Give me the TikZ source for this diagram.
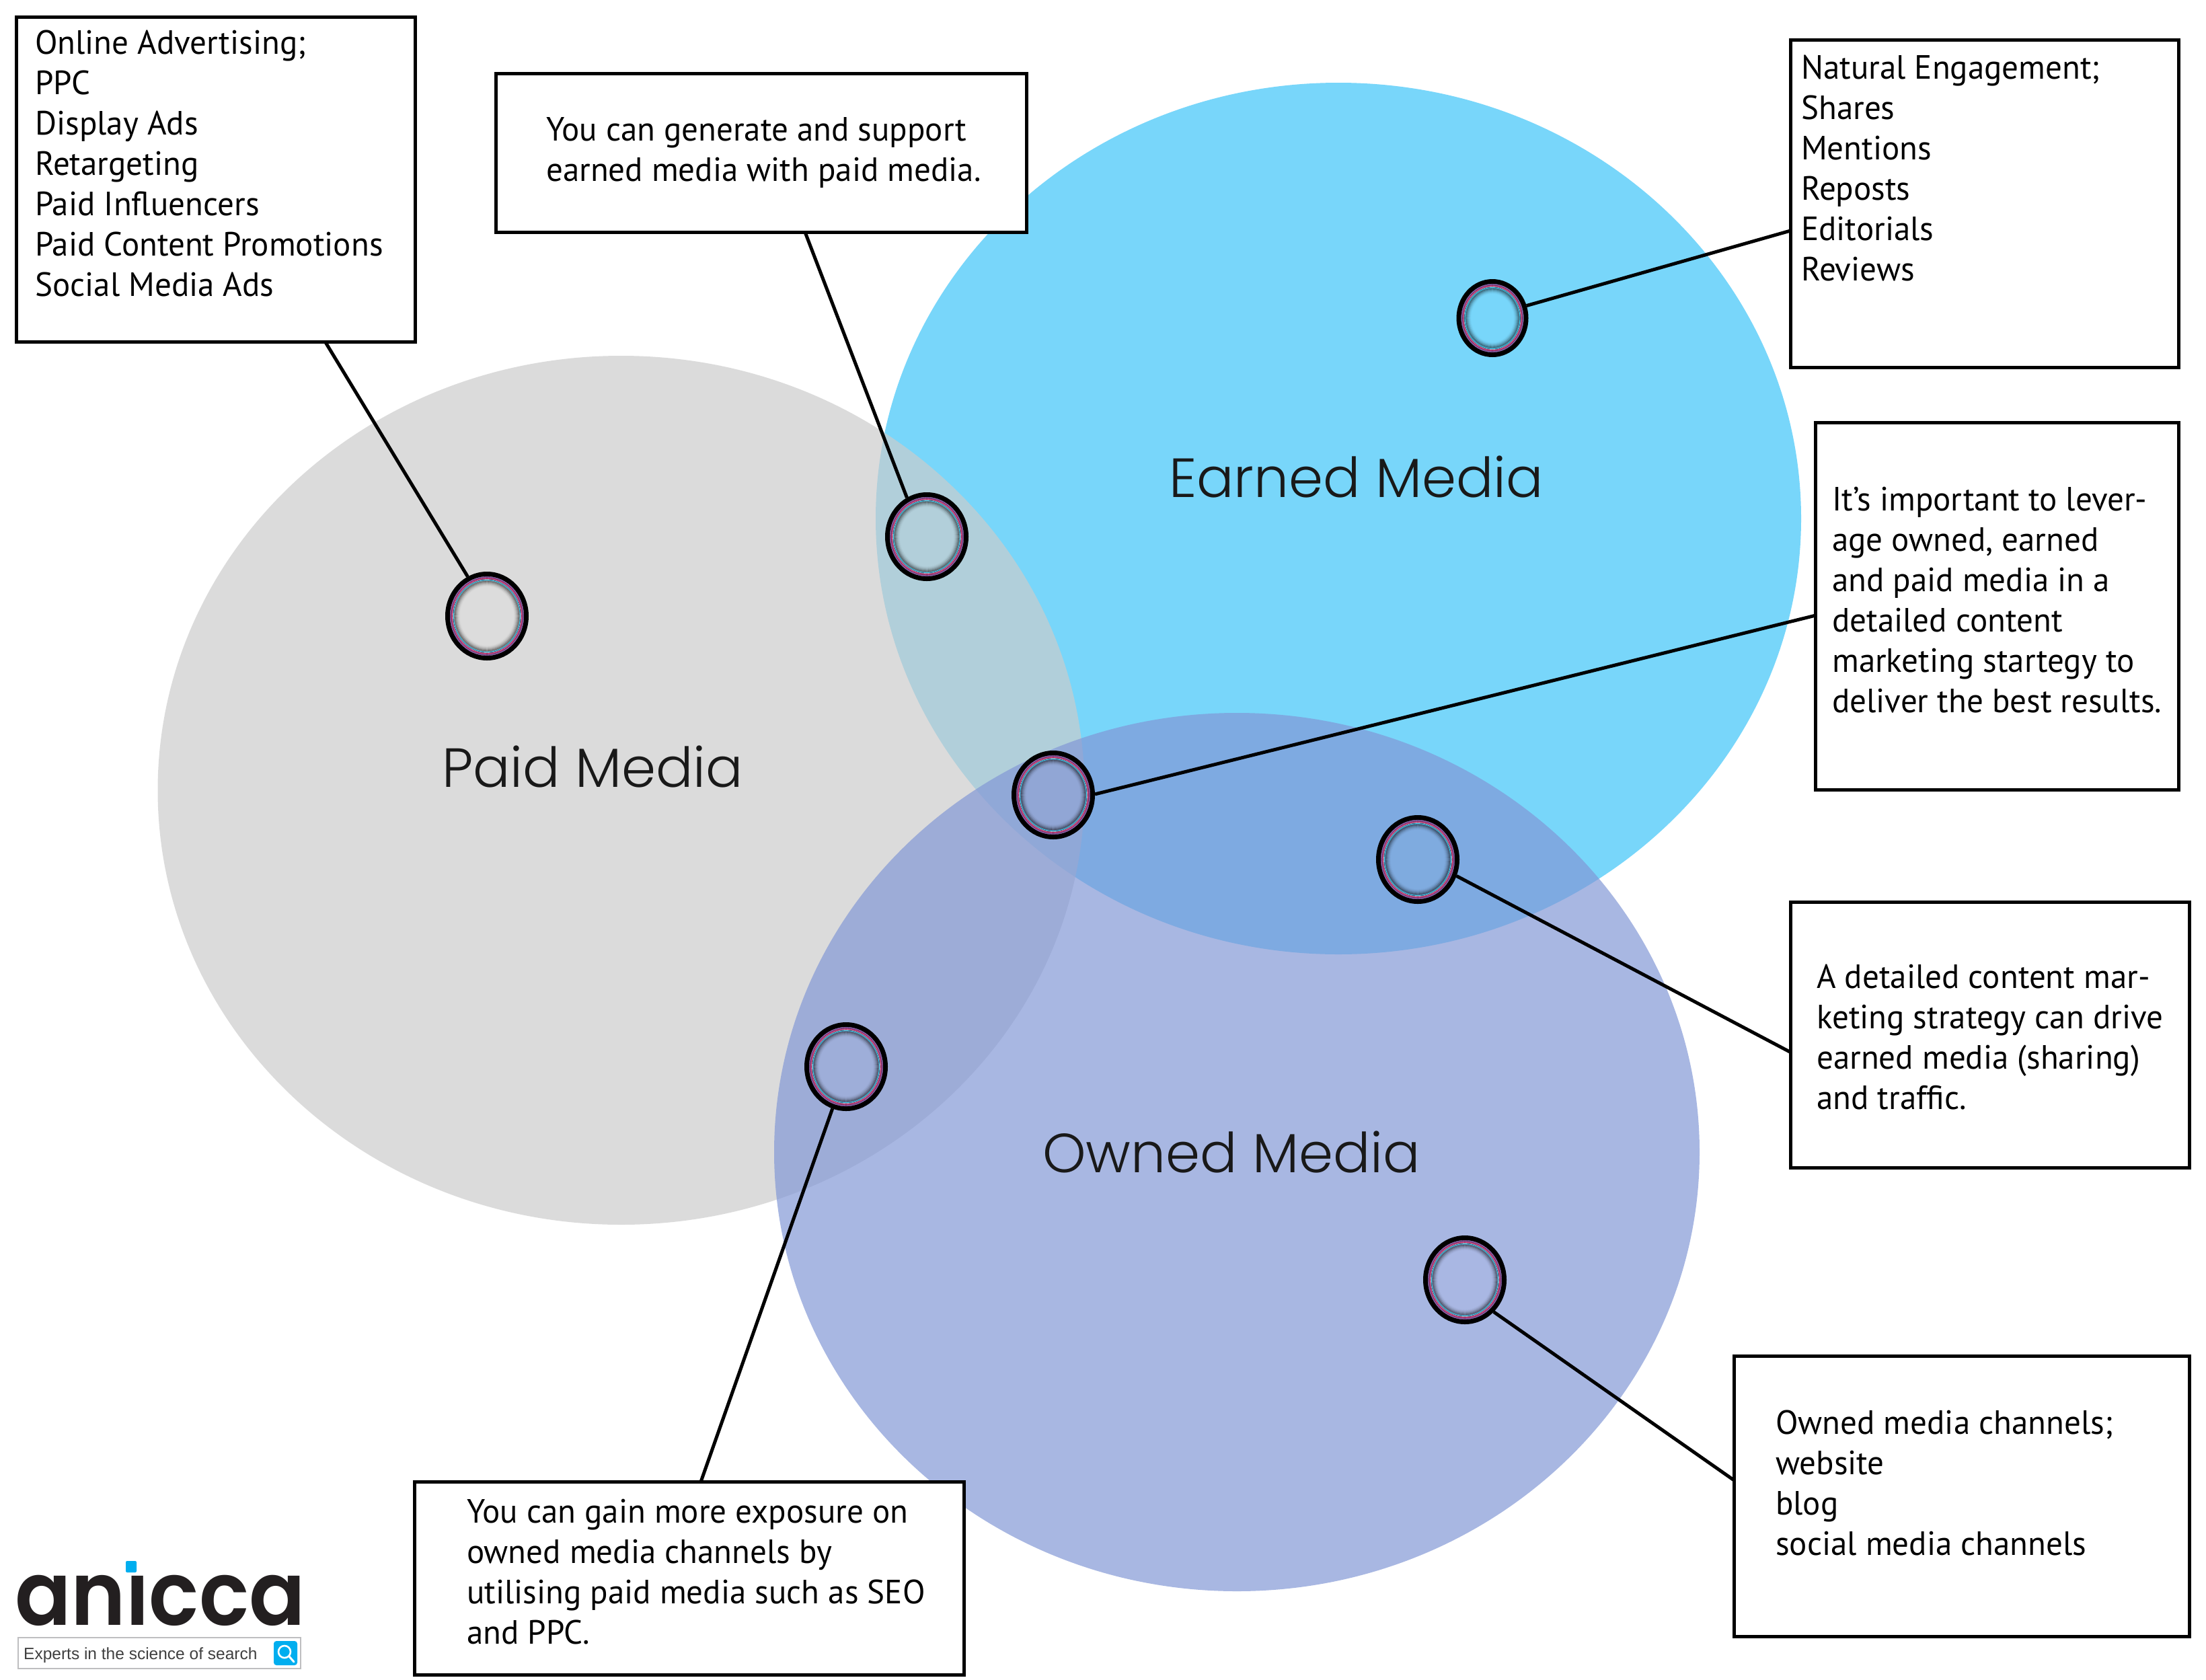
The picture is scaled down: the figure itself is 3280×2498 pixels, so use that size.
\documentclass[tikz,border=0pt]{standalone}
\usepackage{fontspec}
\usetikzlibrary{shapes.geometric}
\setmainfont[FakeStretch=0.98]{PT Sans}
\newfontfamily\headfont{Poppins Light}
\newfontfamily\logofont{Poppins SemiBold}
\newfontfamily\tagfont{Liberation Sans}
\definecolor{earnedc}{HTML}{78D6FA}
\definecolor{paidc}{HTML}{CCCCCC}
\definecolor{ownedc}{HTML}{8297D6}
\definecolor{logoblue}{HTML}{00AEEF}
\definecolor{logoink}{HTML}{231F20}
\definecolor{zonep}{HTML}{DCDCDC}
\definecolor{zonepe}{HTML}{B2CFDA}
\definecolor{zonee}{HTML}{78D6FA}
\definecolor{zonepeo}{HTML}{91A6D5}
\definecolor{zoneeo}{HTML}{7FABDF}
\definecolor{zonepo}{HTML}{9EAED9}
\definecolor{zoneo}{HTML}{A9B7E3}
\newcommand{\firstline}{\rule{0pt}{44pt}}
\tikzset{
  venn/.style={ellipse, inner sep=0pt, draw=none},
  panel/.style={rectangle, draw=black, line width=5pt, fill=white, inner sep=0pt, outer sep=0pt, anchor=north west},
  bodytext/.style={inner sep=0pt, anchor=north west, align=left, font=\fontsize{50}{60}\selectfont},
  heading/.style={inner sep=0pt, anchor=base west, font=\headfont\fontsize{82}{100}\selectfont, text=black!90},
  spot/.style={ellipse, draw=black, line width=7pt, inner sep=0pt},
  leader/.style={draw=black, line width=5pt}
}
% marker: black-edged ellipse with coloured hairline rings and a soft inner shadow
\newcommand{\marker}[6]{%
  \node[spot, minimum width={2*(#4-3.5)*1pt}, minimum height={2*(#5-3.5)*1pt}, fill=#6] (#1) at (#2,#3) {};
  \draw[color={rgb,255:red,50;green,25;blue,60}, line width=6pt] (#2,#3) ellipse ({#4-10} and {#5-10});
  \draw[color={rgb,255:red,150;green,100;blue,175}, line width=1.3pt] (#2,#3) ellipse ({#4-8} and {#5-8});
  \draw[color={rgb,255:red,225;green,70;blue,135}, line width=1.3pt] (#2,#3) ellipse ({#4-10} and {#5-10});
  \draw[white, line width=.7pt, opacity=.6] (#2,#3) ellipse ({#4-11.4} and {#5-11.4});
  \draw[color={rgb,255:red,50;green,190;blue,225}, line width=1.1pt] (#2,#3) ellipse ({#4-12.6} and {#5-12.6});
  \foreach \k in {0,...,8}{%
    \pgfmathsetmacro{\shade}{0.42*(1-\k/9)*(1-\k/9)}
    \draw[black, line width=1.3pt, opacity=\shade] (#2,#3) ellipse ({#4-14-\k} and {#5-14-\k});
  }%
}
\begin{document}
\begin{tikzpicture}[x=1pt,y=-1pt]
\useasboundingbox (0,0) rectangle (3280,2498);
\fill[white] (0,0) rectangle (3280,2498);

% the three overlapping media ellipses
\node[venn, fill=earnedc, minimum width=1376pt, minimum height=1296pt] (earned) at (1990,771) {};
\node[venn, fill=paidc, fill opacity=.69, minimum width=1378pt, minimum height=1292pt] (paid) at (923.5,1175) {};
\node[venn, fill=ownedc, fill opacity=.69, minimum width=1376pt, minimum height=1306pt] (owned) at (1839,1713) {};

\node[heading] (paidlabel) at (657,1170) {Paid Media};
\node[heading] (earnedlabel) at (1738,739) {Earned Media};
\node[heading] (ownedlabel) at (1550,1743) {Owned Media};

% callout panels
\node[panel, minimum width=593pt, minimum height=483pt] (b1) at (24,25) {};
\node[panel, minimum width=789pt, minimum height=236pt] (b2) at (737,109) {};
\node[panel, minimum width=577pt, minimum height=487pt] (b3) at (2662,59) {};
\node[panel, minimum width=540pt, minimum height=546pt] (b4) at (2699,628) {};
\node[panel, minimum width=593pt, minimum height=395pt] (b5) at (2662,1341) {};
\node[panel, minimum width=677pt, minimum height=417pt] (b6) at (2578,2016) {};
\node[panel, minimum width=817pt, minimum height=287pt] (b7) at (616,2203) {};

\node[bodytext] (t1) at (52,36) {\firstline Online Advertising;\\PPC\\Display Ads\\Retargeting\\Paid Influencers\\Paid Content Promotions\\Social Media Ads};
\node[bodytext] (t2) at (812,165) {\firstline You can generate and support\\earned media with paid media.};
\node[bodytext] (t3) at (2678,73) {\firstline Natural Engagement;\\Shares\\Mentions\\Reposts\\Editorials\\Reviews};
\node[bodytext] (t4) at (2724,715) {\firstline It’s important to lever-\\age owned, earned\\and paid media in a\\detailed content\\marketing startegy to\\deliver the best results.};
\node[bodytext] (t5) at (2701,1425) {\firstline A detailed content mar-\\keting strategy can drive\\earned media (sharing)\\and traffic.};
\node[bodytext] (t6) at (2640,2088) {\firstline Owned media channels;\\website\\blog\\social media channels};
\node[bodytext] (t7) at (694,2220) {\firstline You can gain more exposure on\\owned media channels by\\utilising paid media such as SEO\\and PPC.};

% markers on the ellipses
\marker{m1}{724}{916}{62}{66}{zonep}
\marker{m2}{1378}{798}{62}{66}{zonepe}
\marker{m3}{2219}{473}{53.5}{58}{zonee}
\marker{m4}{1566}{1182}{62}{66}{zonepeo}
\marker{m5}{2108}{1278}{62}{66}{zoneeo}
\marker{m6}{1258}{1586}{62}{66}{zonepo}
\marker{m7}{2178}{1903}{62}{66}{zoneo}

% leaders from panels to markers
\draw[leader] (b1.-56) -- (m1.116.6);
\draw[leader] (b2.-61) -- (m2.117);
\draw[leader] (b3.188.4) -- (m3.20);
\draw[leader] (b4.183) -- (m4.1);
\draw[leader] (b5.185.9) -- (m5.-23.3);
\draw[leader] (b6.176.4) -- (m7.-48.7);
\draw[leader] (b7.83.6) -- (m6.252.4);

% logo block
\node[inner sep=0pt, anchor=base west, text=logoink, font=\logofont\fontsize{132}{132}\selectfont] (logo) at (22,2416) {\scalebox{0.935}[1]{anicca}};
\fill[white] (160,2290) rectangle (235,2340);
\fill[logoblue, rounded corners=2pt] (187,2321) rectangle (203,2338);
\node[draw={rgb,255:red,190;green,190;blue,192}, line width=1.5pt, minimum width=420pt, minimum height=46pt, inner sep=0pt, anchor=north west] (tagbox) at (26,2434) {};
\node[inner sep=0pt, anchor=base west, text=black!75, font=\tagfont\fontsize{24.5}{26}\selectfont] (tag) at (35,2467) {Experts in the science of search};
\fill[logoblue, rounded corners=4pt] (407,2440) rectangle (442,2476);
\draw[white, line width=2.6pt] (423,2456) circle (9);
\draw[white, line width=3pt, line cap=round] (430,2463) -- (437,2471);
\end{tikzpicture}
\end{document}
